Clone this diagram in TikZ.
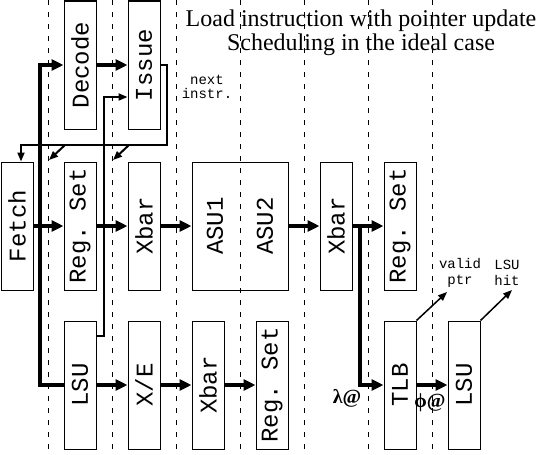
\documentclass[tikz,border=0pt]{standalone}
\usepackage{fontspec}
\setmainfont{Liberation Serif}
\setmonofont{Liberation Mono}
\usepackage{tikz}
\usetikzlibrary{arrows.meta, positioning, calc}

\begin{document}
\begin{tikzpicture}[
    x=1pt, y=-1pt,
    stage/.style={rectangle, draw, line width=1pt, minimum width=32pt, minimum height=128pt, inner sep=0pt, font=\fontsize{24}{24}\selectfont\ttfamily},
    widestage/.style={stage, minimum width=96pt},
    guide/.style={line width=1pt, dash pattern=on 5pt off 7pt},
    bus/.style={line width=4pt, line join=miter, -{Triangle[length=12pt, width=11pt]}},
    wire/.style={line width=2pt, line join=miter, -{Triangle[length=9pt, width=7pt]}},
    flag/.style={line width=1.5pt, -{Triangle[length=9pt, width=7pt]}},
    note/.style={font=\fontsize{14}{14}\selectfont\ttfamily, align=center, inner sep=0pt},
    addr/.style={font=\fontsize{20}{20}\selectfont\bfseries, inner sep=0pt},
    title/.style={font=\fontsize{24}{24}\selectfont, anchor=base, inner sep=0pt},
  ]
    \useasboundingbox (0,0) rectangle (541,455);

    % Pipeline cycle boundaries
    \draw[guide] (48,0) -- (48,455);
    \draw[guide] (112,0) -- (112,455);
    \draw[guide] (176,0) -- (176,455);
    \draw[guide] (240,0) -- (240,455);
    \draw[guide] (304,0) -- (304,455);
    \draw[guide] (368,0) -- (368,455);
    \draw[guide] (432,0) -- (432,455);

    % Title
    \node[title] (title1) at (361,27) {Load instruction with pointer update};
    \node[title] (title2) at (361,50) {Scheduling in the ideal case};

    % Front end
    \node[stage] (decode) at (80,65) {\rotatebox{90}{Decode}};
    \node[stage] (issue) at (144,65) {\rotatebox{90}{Issue}};
    \node[stage] (fetch) at (17,226) {\rotatebox{90}{Fetch}};

    % Address computation
    \node[stage] (regset1) at (80,226) {\rotatebox{90}{Reg. Set}};
    \node[stage] (xbar1) at (144,226) {\rotatebox{90}{Xbar}};
    \node[widestage] (asu) at (240,226) {};
    \node[font=\fontsize{24}{24}\selectfont\ttfamily] (asu1) at (215,226) {\rotatebox{90}{ASU1}};
    \node[font=\fontsize{24}{24}\selectfont\ttfamily] (asu2) at (265,226) {\rotatebox{90}{ASU2}};
    \node[stage] (xbar2) at (336,226) {\rotatebox{90}{Xbar}};
    \node[stage] (regset2) at (400,226) {\rotatebox{90}{Reg. Set}};

    % Load / store path
    \node[stage] (lsu1) at (80,385) {\rotatebox{90}{LSU}};
    \node[stage] (xe) at (144,385) {\rotatebox{90}{X/E}};
    \node[stage] (xbar3) at (208,385) {\rotatebox{90}{Xbar}};
    \node[stage] (regset3) at (272,385) {\rotatebox{90}{Reg. Set}};
    \node[stage] (tlb) at (400,385) {\rotatebox{90}{TLB}};
    \node[stage] (lsu2) at (464,385) {\rotatebox{90}{LSU}};

    % Labels
    \node[note] (next) at (207,87) {next\\instr.};
    \node[note, font=\fontsize{14}{16}\selectfont\ttfamily] (valid) at (460,273) {valid\\ptr};
    \node[note, font=\fontsize{14}{16}\selectfont\ttfamily] (hit) at (507,273) {LSU\\hit};
    \node[addr] (lambda) at (347,398) {λ@};
    \node[addr] (phi) at (430,403) {ϕ@};

    % Instruction bus
    \coordinate (bustop) at (40,65);
    \coordinate (busbot) at (40,385);
    \draw[bus, {Triangle[length=12pt, width=11pt]}-] (decode.west) -- (bustop) -- (busbot) -- (lsu1.west);
    \draw[bus] (fetch.east) -- (regset1.west);
    \draw[bus] (decode.east) -- (issue.west);

    % Data flow
    \draw[bus] (regset1.east) -- (xbar1.west);
    \draw[bus] (xbar1.east) -- (asu.west);
    \draw[bus] (asu.east) -- (xbar2.west);
    \draw[bus] (xbar2.east) -- (regset2.west);
    \coordinate (branch) at (360,226);
    \draw[bus] (branch) |- (tlb.west);
    \draw[bus] (tlb.east) -- (lsu2.west);
    \draw[bus] (lsu1.east) -- (xe.west);
    \draw[bus] (xe.east) -- (xbar3.west);
    \draw[bus] (xbar3.east) -- (regset3.west);

    % Next instruction loop
    \coordinate (loopR) at (167,145);
    \coordinate (loopL) at (21,145);
    \draw[wire] (issue.east) -| (loopR) -- (loopL) -- (loopL |- fetch.north);
    \coordinate (tap1) at (65,145);
    \coordinate (tip1) at (49,160);
    \coordinate (tap2) at (129,145);
    \coordinate (tip2) at (113,160);
    \draw[wire] (tap1) -- (tip1);
    \draw[wire] (tap2) -- (tip2);
    \coordinate (ret) at (104,97);
    \draw[wire] ([yshift=-15pt]lsu1.north east) -| (ret) -- (ret -| issue.west);

    % Status flags
    \coordinate (validtip) at (447,292);
    \coordinate (hittip) at (512,290);
    \draw[flag] (tlb.north east) -- (validtip);
    \draw[flag] (lsu2.north east) -- (hittip);

  \end{tikzpicture}
\end{document}
